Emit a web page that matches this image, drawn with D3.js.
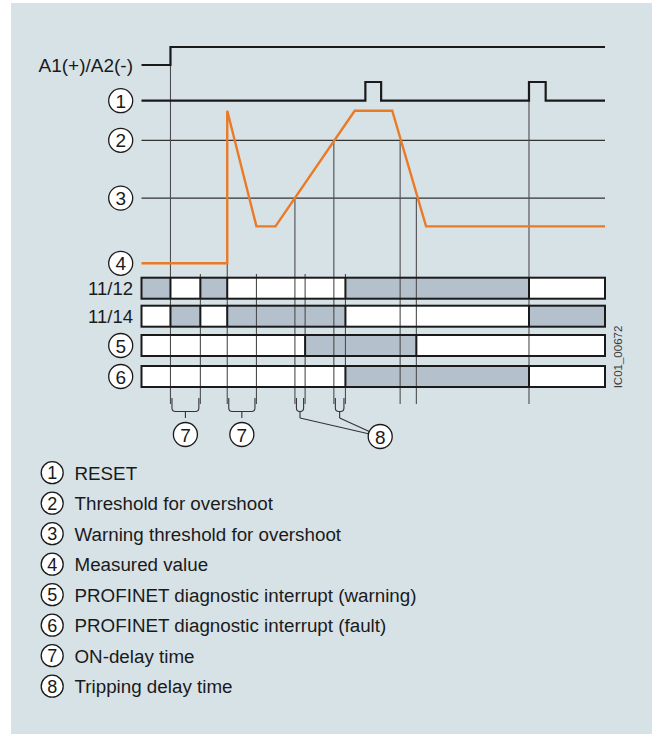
<!DOCTYPE html>
<html>
<head>
<meta charset="utf-8">
<script src="https://cdn.jsdelivr.net/npm/d3@7"></script>
<style>
  body { margin: 0; background: #fff; }
  text { font-family: "Liberation Sans", Arial, sans-serif; fill: #1a1a1a; }
</style>
</head>
<body>
<div id="chart"></div>
<script>
// time axis is in arbitrary units 0..100
// supply voltage A1(+)/A2(-)
const a1Times = [0, 6.25, 100];
const a1Levels = [0, 1, 1];
// RESET pulses
const resetTimes = [0, 48.3, 51.7, 83.6, 87.2, 100];
const resetLevels = [0, 1, 0, 1, 0, 0];
// measured value (threshold for overshoot = 100)
const valueTimes = [0, 18.5, 18.5, 24.8, 28.9, 46, 54.1, 61.4, 100];
const valueValues = [0, 0, 124, 30, 30, 124, 124, 30, 30];
const overshootThreshold = 100;
const warningThreshold = 53;

// output / diagnostic rows: boundaries + state per segment (1 = active, grey)
const rowNames = ["11/12", "11/14", "5", "6"];
const rowBounds = [
  [0, 6.25, 12.7, 18.5, 44, 83.6, 100],
  [0, 6.25, 12.7, 18.5, 44, 83.6, 100],
  [0, 35.3, 59.3, 100],
  [0, 44, 83.6, 100]
];
const rowStates = [
  [1, 0, 1, 0, 1, 0],
  [0, 1, 0, 1, 0, 1],
  [0, 1, 0],
  [0, 1, 0]
];

// vertical guide lines: time and where they start
const guideTimes = [6.25, 12.7, 18.5, 24.8, 33.1, 35.3, 41.5, 44, 55.8, 59.3, 83.6];
const guideFrom = ["a1", "bars", "base", "bars", "thr3", "bars", "thr2", "bars", "thr2", "thr3", "reset"];

// delay brackets
const onDelay = [[6.25, 12.7], [18.5, 24.8]];
const tripDelay = [[33.1, 35.3], [41.5, 44]];

const legendItems = [
  "RESET",
  "Threshold for overshoot",
  "Warning threshold for overshoot",
  "Measured value",
  "PROFINET diagnostic interrupt (warning)",
  "PROFINET diagnostic interrupt (fault)",
  "ON-delay time",
  "Tripping delay time"
];

const W = 652, H = 734;
const svg = d3.select("#chart").append("svg")
  .attr("width", W).attr("height", H);

svg.append("rect").attr("x", 11).attr("y", 3).attr("width", W - 11).attr("height", H - 3)
  .attr("fill", "#d7e2e7");

const x = d3.scaleLinear().domain([0, 100]).range([141.5, 605]);
const v = d3.scaleLinear().domain([0, overshootThreshold]).range([263.3, 140.3]);
const a1y = d3.scaleLinear().domain([0, 1]).range([65, 47]);
const rsy = d3.scaleLinear().domain([0, 1]).range([100.7, 82]);

const barTop = [277.7, 305.7, 335, 366];
const barH = 21;

const startY = {
  a1: a1y(0), reset: rsy(1), thr2: v(overshootThreshold), thr3: v(warningThreshold),
  base: v(0), bars: 274
};
const guideBottom = 404;

// threshold lines
[overshootThreshold, warningThreshold].forEach(t => {
  svg.append("line")
    .attr("x1", x(0)).attr("x2", x(100))
    .attr("y1", v(t)).attr("y2", v(t))
    .attr("stroke", "#333").attr("stroke-width", 1.3);
});

// bar cell fills
const rows = svg.append("g");
rowBounds.forEach((b, i) => {
  rowStates[i].forEach((s, j) => {
    rows.append("rect")
      .attr("x", x(b[j])).attr("y", barTop[i])
      .attr("width", x(b[j + 1]) - x(b[j])).attr("height", barH)
      .attr("fill", s ? "#b4c1cc" : "#fff");
  });
});

// guide lines
guideTimes.forEach((t, i) => {
  svg.append("line")
    .attr("x1", x(t)).attr("x2", x(t))
    .attr("y1", startY[guideFrom[i]]).attr("y2", guideBottom)
    .attr("stroke", "#4d4d4d").attr("stroke-width", 1.1);
});

// bar borders + state change dividers
rowBounds.forEach((b, i) => {
  b.slice(1, -1).forEach(t => {
    svg.append("line")
      .attr("x1", x(t)).attr("x2", x(t))
      .attr("y1", barTop[i]).attr("y2", barTop[i] + barH)
      .attr("stroke", "#1a1a1a").attr("stroke-width", 2);
  });
  svg.append("rect")
    .attr("x", x(0)).attr("y", barTop[i])
    .attr("width", x(100) - x(0)).attr("height", barH)
    .attr("fill", "none").attr("stroke", "#1a1a1a").attr("stroke-width", 2);
});

// digital signals
const step = d3.line().curve(d3.curveStepAfter);
svg.append("path")
  .attr("d", step(a1Times.map((t, i) => [x(t), a1y(a1Levels[i])])))
  .attr("fill", "none").attr("stroke", "#1a1a1a").attr("stroke-width", 2.2);
svg.append("path")
  .attr("d", step(resetTimes.map((t, i) => [x(t), rsy(resetLevels[i])])))
  .attr("fill", "none").attr("stroke", "#1a1a1a").attr("stroke-width", 2.2);

// measured value
svg.append("path")
  .attr("d", d3.line()(valueTimes.map((t, i) => [x(t), v(valueValues[i])])))
  .attr("fill", "none").attr("stroke", "#ea7a26").attr("stroke-width", 2.4)
  .attr("stroke-linejoin", "miter");

// numbered circle helper
function badge(cx, cy, r, n, fs) {
  svg.append("circle").attr("cx", cx).attr("cy", cy).attr("r", r)
    .attr("fill", "#fff").attr("stroke", "#1a1a1a").attr("stroke-width", 1.3);
  svg.append("text").attr("x", cx).attr("y", cy + 0.5)
    .attr("text-anchor", "middle").attr("dominant-baseline", "central")
    .style("font-size", fs + "px").text(n);
}

// left labels
const labX = 133, badgeX = 120.7;
svg.append("text").attr("x", labX).attr("y", a1y(0))
  .attr("text-anchor", "end").attr("dominant-baseline", "central")
  .style("font-size", "19px").text("A1(+)/A2(-)");
badge(badgeX, rsy(0), 12, "1", 19);
badge(badgeX, v(overshootThreshold), 12, "2", 19);
badge(badgeX, v(warningThreshold), 12, "3", 19);
badge(badgeX, v(0), 12, "4", 19);
rowNames.forEach((name, i) => {
  const cy = barTop[i] + barH / 2;
  if (name.includes("/")) {
    svg.append("text").attr("x", labX).attr("y", cy)
      .attr("text-anchor", "end").attr("dominant-baseline", "central")
      .style("font-size", "18.5px").text(name);
  } else {
    badge(badgeX, cy, 12, name, 19);
  }
});

// brackets
function bracket(t0, t1) {
  const x0 = x(t0) + 1.5, x1 = x(t1) - 1.5, yt = 398, yb = 411.5, r = 3.5;
  svg.append("path")
    .attr("d", `M${x0},${yt}V${yb - r}Q${x0},${yb} ${x0 + r},${yb}H${x1 - r}Q${x1},${yb} ${x1},${yb - r}V${yt}`)
    .attr("fill", "none").attr("stroke", "#333").attr("stroke-width", 1.1);
  const m = (x0 + x1) / 2;
  svg.append("line").attr("x1", m).attr("x2", m).attr("y1", yb).attr("y2", 418)
    .attr("stroke", "#333").attr("stroke-width", 1.1);
  return m;
}
onDelay.forEach(d => {
  const m = bracket(d[0], d[1]);
  badge(m, 434.5, 12, "7", 19);
});
const c8 = [x(51.5), 436.5];
tripDelay.forEach(d => {
  const m = bracket(d[0], d[1]);
  const dx = m - c8[0], dy = 418 - c8[1], L = Math.hypot(dx, dy);
  svg.append("line").attr("x1", m).attr("y1", 418)
    .attr("x2", c8[0] + dx / L * 12).attr("y2", c8[1] + dy / L * 12)
    .attr("stroke", "#333").attr("stroke-width", 1.1);
});
badge(c8[0], c8[1], 12, "8", 19);

// image id
svg.append("text")
  .attr("transform", "translate(622,357) rotate(-90)")
  .attr("text-anchor", "middle")
  .style("font-size", "11.5px").style("fill", "#3a3a3a")
  .text("IC01_00672");

// legend
legendItems.forEach((item, i) => {
  const cy = 472.7 + i * 30.5;
  badge(52.2, cy, 11, String(i + 1), 18);
  svg.append("text").attr("x", 74.5).attr("y", cy + 0.5)
    .attr("dominant-baseline", "central")
    .style("font-size", "18.8px").text(item);
});
</script>
</body>
</html>
